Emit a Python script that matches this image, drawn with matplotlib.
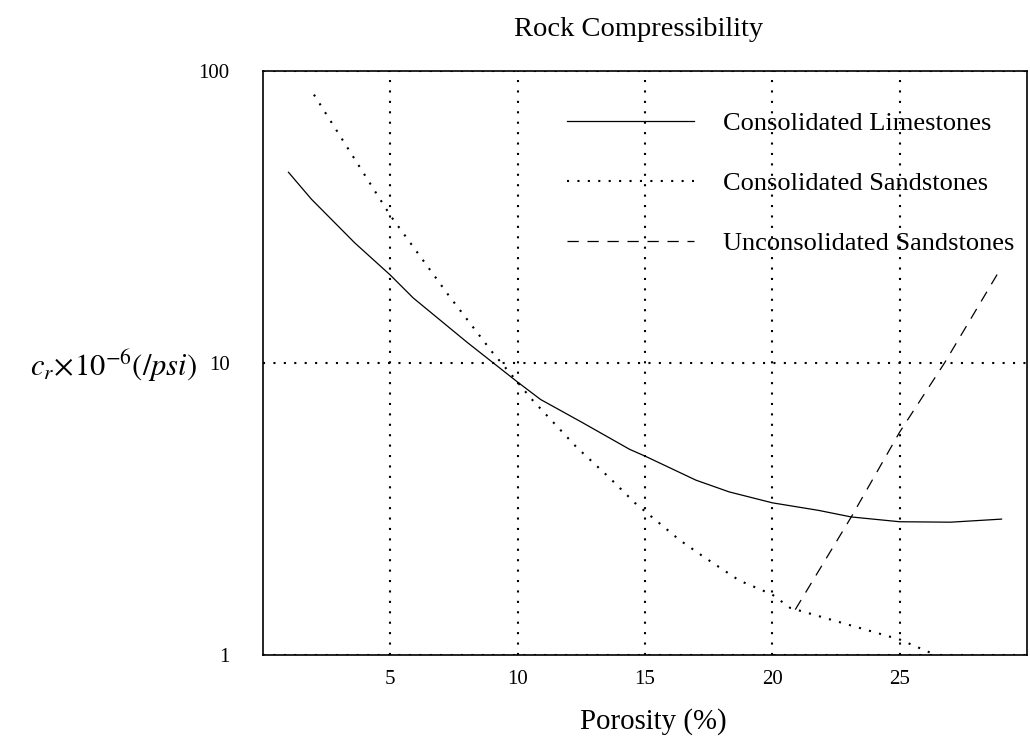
import numpy as np
import matplotlib
matplotlib.use("Agg")
import matplotlib.pyplot as plt

plt.rcParams["font.family"] = ["Liberation Serif", "DejaVu Serif"]
plt.rcParams["mathtext.fontset"] = "stix"

# porosity (%) vs rock compressibility (1e-6 /psi)
lime_x = [1, 1.9, 3.6, 5, 5.9, 8, 10, 10.9, 12.5, 14.4, 15, 17, 18.3, 20, 21.8, 23.1, 25, 27, 29]
lime_y = [45, 36.4, 25.8, 20, 16.7, 11.8, 8.6, 7.5, 6.28, 5.06, 4.8, 3.97, 3.62, 3.32, 3.13, 2.97, 2.86, 2.85, 2.92]

sand_x = [2, 5, 7.3, 9, 10, 10.5, 12.3, 13.6, 14.6, 16.35, 17.3, 18.7, 20, 20.7, 25, 26.3]
sand_y = [83, 32, 17, 10.9, 8.6, 7.6, 5.16, 4.05, 3.32, 2.48, 2.17, 1.8, 1.61, 1.45, 1.13, 1.01]

uncons_x = [20.9, 23.1, 25, 26.76, 29]
uncons_y = [1.43, 2.97, 5.8, 10, 21.3]

labels = ["Consolidated Limestones", "Consolidated Sandstones", "Unconsolidated Sandstones"]
xticks = [5, 10, 15, 20, 25]
yticks = [1, 10, 100]

fig = plt.figure(figsize=(10.3, 7.44), dpi=100)
ax = fig.add_axes([263 / 1030, 1 - 655 / 744, 764 / 1030, 584 / 744])

dot = (0, (1, 4))
ax.plot(lime_x, lime_y, color="black", lw=0.9, label=labels[0])
ax.plot(sand_x, sand_y, color="black", lw=1.5, ls=dot, label=labels[1])
ax.plot(uncons_x, uncons_y, color="black", lw=0.9, ls=(0, (9, 7)), label=labels[2])

ax.set_yscale("log")
ax.set_xlim(0, 30)
ax.set_ylim(1, 100)
ax.set_xticks(xticks)
ax.set_xticklabels([str(t) for t in xticks])
ax.set_yticks(yticks)
ax.set_yticklabels([str(t) for t in yticks])
ax.yaxis.set_minor_locator(matplotlib.ticker.NullLocator())
ax.tick_params(length=0, labelsize=15)
ax.tick_params(axis="y", pad=24)
ax.tick_params(axis="x", pad=11)
ax.grid(True, color="black", lw=1.5, ls=dot)
for s in ax.spines.values():
    s.set_linewidth(1.2)

ax.legend(loc="upper left", bbox_to_anchor=(567 / 1030, 1 - 112 / 744),
          bbox_transform=fig.transFigure, frameon=False, fontsize=19,
          handlelength=4.8, handletextpad=1.1, labelspacing=1.38,
          borderpad=0, borderaxespad=0)

fig.text(639 / 1030, 1 - 30 / 744, "Rock Compressibility", ha="center", va="center", fontsize=20.5)
fig.text(653 / 1030, 1 - 722 / 744, "Porosity (%)", ha="center", va="center", fontsize=20.8)
fig.text(114 / 1030, 1 - 366 / 744, r"$c_r\!\times\!10^{-6}(/psi)$", ha="center", va="center", fontsize=22)

fig.savefig("out.png", dpi=100)
